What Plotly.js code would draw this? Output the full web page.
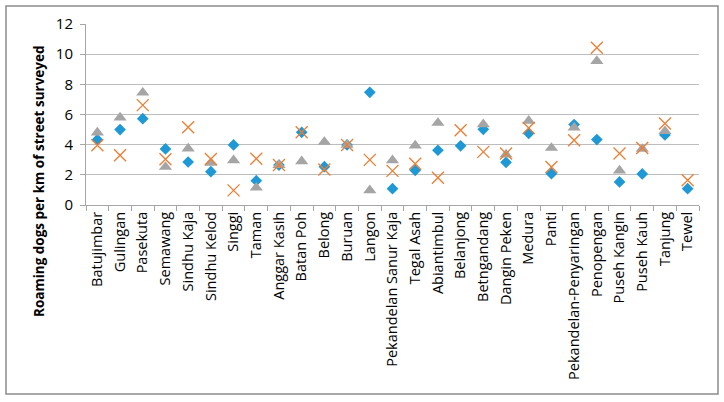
<!DOCTYPE html>
<html>
<head>
<meta charset="utf-8">
<script src="https://cdn.plot.ly/plotly-3.0.1.min.js"></script>
<style>
html,body{margin:0;padding:0;background:#fff;}
#chart{width:724px;height:402px;}
</style>
</head>
<body>
<div id="chart"></div>
<script>
const categories = ["Batujimbar","Gulingan","Pasekuta","Semawang","Sindhu Kaja","Sindhu Kelod","Singgi","Taman","Anggar Kasih","Batan Poh","Belong","Buruan","Langon","Pekandelan Sanur Kaja","Tegal Asah","Abiantimbul","Belanjong","Betngandang","Dangin Peken","Medura","Panti","Pekandelan-Penyaringan","Penopengan","Puseh Kangin","Puseh Kauh","Tanjung","Tewel"];
const blueValues = [4.33,5.0,5.72,3.72,2.85,2.21,3.98,1.61,2.65,4.82,2.54,3.98,7.47,1.08,2.3,3.63,3.92,5.02,2.83,4.75,2.08,5.33,4.34,1.53,2.06,4.64,1.08];
const grayValues = [4.8,5.8,7.45,2.52,3.74,2.79,2.96,1.15,2.65,2.9,4.18,3.98,0.97,2.96,3.94,5.44,null,5.35,3.34,5.58,3.78,5.13,9.54,2.28,3.72,4.89,null];
const orangeValues = [3.96,3.3,6.62,3.03,5.15,3.05,0.97,3.07,2.65,4.82,2.35,3.98,2.99,2.26,2.74,1.81,4.96,3.52,3.41,5.11,2.52,4.29,10.42,3.41,3.78,5.4,1.64];
const yTitle = "Roaming dogs per km of street surveyed";

const W = 724, H = 402;
const L = 86, R = 25, T = 24, B = 197;
const pw = W - L - R, ph = H - T - B;
const px = x => (x - L) / pw;
const py = y => (H - B - y) / ph;

const traces = [
  {x: categories, y: blueValues, name: "Series 1", type: "scatter", mode: "markers",
   marker: {symbol: "diamond", size: 9, color: "#1f98d6"}},
  {x: categories, y: grayValues, name: "Series 3", type: "scatter", mode: "markers",
   marker: {symbol: "triangle-up", size: 11.5, color: "#a5a5a5"}},
  {x: categories, y: orangeValues, name: "Series 2", type: "scatter", mode: "markers",
   marker: {symbol: "x-thin-open", size: 12, color: "#ed7d31", line: {color: "#ed7d31", width: 1.3}}}
];

const layout = {
  width: W, height: H,
  margin: {l: L, r: R, t: T, b: B, pad: 0},
  paper_bgcolor: "#fff", plot_bgcolor: "#fff",
  showlegend: false,
  font: {family: "Open Sans, sans-serif", color: "#000"},
  xaxis: {
    type: "category", categoryorder: "array", categoryarray: categories,
    tickangle: -90, tickfont: {size: 14.5, color: "#000"},
    showgrid: false, showline: true, linecolor: "#a6a6a6", linewidth: 1,
    ticks: "outside", tickson: "boundaries", ticklen: 5, tickcolor: "#a6a6a6",
    range: [-0.5, categories.length - 0.5], zeroline: false, automargin: false
  },
  yaxis: {
    range: [0, 12], dtick: 2, tick0: 0,
    tickfont: {size: 15, color: "#000"},
    showgrid: true, gridcolor: "#bdbdbd", gridwidth: 1.2,
    showline: true, linecolor: "#a6a6a6", linewidth: 1,
    ticks: "outside", ticklen: 5, tickcolor: "#a6a6a6",
    zeroline: false, automargin: false, ticklabelstandoff: 4
  },
  annotations: [{
    text: "<b>" + yTitle + "</b>", textangle: -90,
    xref: "paper", yref: "paper", x: px(39), y: py(181),
    xanchor: "center", yanchor: "middle", showarrow: false,
    font: {size: 13.5, color: "#000"}
  }],
  shapes: [{
    type: "rect", xref: "paper", yref: "paper",
    x0: px(6), x1: px(718), y0: py(394), y1: py(6),
    line: {color: "#8c8c8c", width: 1.5}, fillcolor: "rgba(0,0,0,0)", layer: "below"
  }]
};

Plotly.newPlot("chart", traces, layout, {staticPlot: true, displayModeBar: false});
</script>
</body>
</html>
